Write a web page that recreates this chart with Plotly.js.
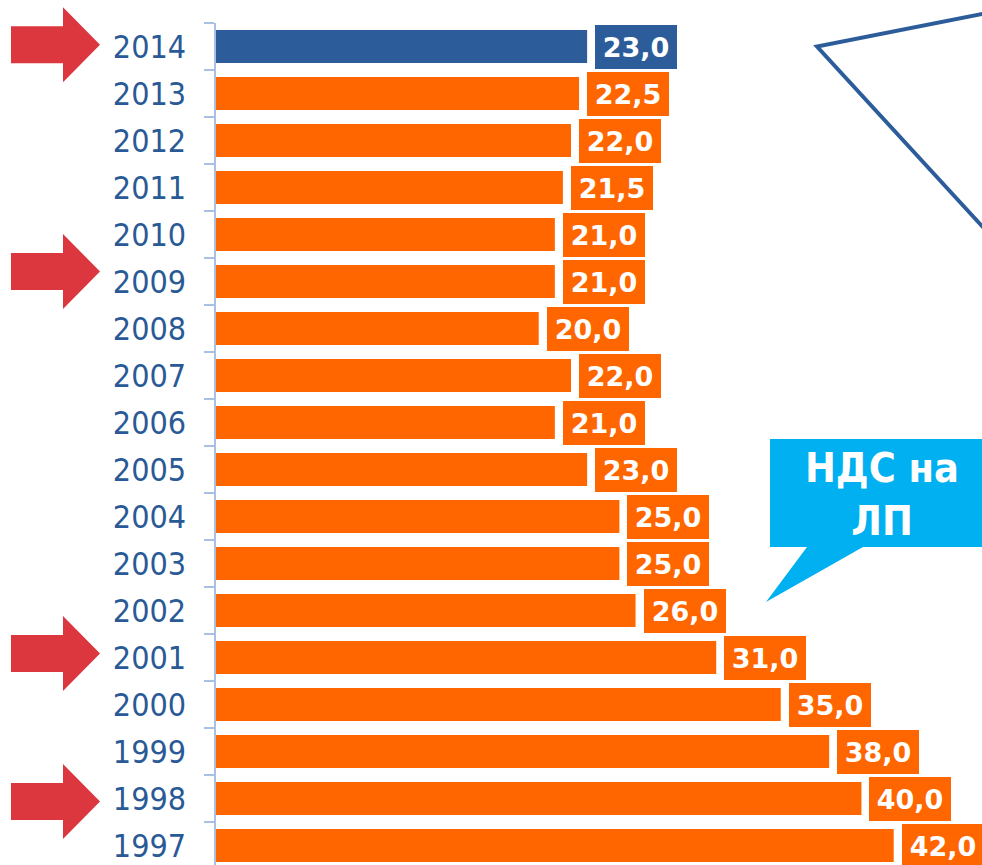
<!DOCTYPE html>
<html>
<head>
<meta charset="utf-8">
<script src="https://cdn.plot.ly/plotly-3.0.1.min.js"></script>
<style>html,body{margin:0;padding:0;background:#fff;}#chart{width:982px;height:865px;}</style>
</head>
<body>
<div id="chart"></div>
<script>
// ---- data ----
var years = ['2014','2013','2012','2011','2010','2009','2008','2007','2006','2005','2004','2003','2002','2001','2000','1999','1998','1997'];
var values = [23.0, 22.5, 22.0, 21.5, 21.0, 21.0, 20.0, 22.0, 21.0, 23.0, 25.0, 25.0, 26.0, 31.0, 35.0, 38.0, 40.0, 42.0];
var highlightYear = '2014';
var arrowYears = ['2014','2009','2001','1998'];
var arrowNudge = [-1.7, -10, -4, 3];
var calloutText = 'НДС на<br>ЛП';

// ---- style ----
var ORANGE = '#FF6600', BLUE = '#2C5D9A', RED = '#DC363F', CYAN = '#00B0F0';
var W = 982, H = 865, L = 216, R = 0, T = 23, B = 0;
var plotW = W - L - R, plotH = H - T - B;
var catPx = 47, xPerUnit = 16.136;
var nVisible = plotH / catPx;
var xMax = plotW / xPerUnit;

function pxX(x){ return (x - L) / plotW; }
function pxY(y){ return (H - B - y) / plotH; }
function catCenter(i){ return T + (i + 0.5) * catPx; }

var colors = years.map(function(y){ return y === highlightYear ? BLUE : ORANGE; });

var annotations = years.map(function(y, i){
  return {
    x: values[i], y: i, xref: 'x', yref: 'y',
    text: values[i].toFixed(1).replace('.', ','),
    showarrow: false, xanchor: 'left', yanchor: 'middle', xshift: 8,
    width: 82, height: 44, borderpad: 0, borderwidth: 0,
    bgcolor: colors[i],
    font: {family: 'DejaVu Sans, sans-serif', size: 27, color: '#ffffff', weight: 'bold'}
  };
});

annotations.push({
  xref: 'paper', yref: 'paper', x: pxX(881.5), y: pxY(494),
  xanchor: 'center', yanchor: 'middle', showarrow: false,
  text: calloutText, align: 'center',
  font: {family: 'DejaVu Sans Condensed, DejaVu Sans, sans-serif', size: 41, color: '#ffffff', weight: 'bold'}
});

function path(pts){
  return 'M' + pts.map(function(p){ return pxX(p[0]) + ',' + pxY(p[1]); }).join(' L') + ' Z';
}

var shapes = [];
arrowYears.forEach(function(y, k){
  var c = catCenter(years.indexOf(y)) + arrowNudge[k];
  shapes.push({
    type: 'path', xref: 'paper', yref: 'paper', layer: 'above',
    path: path([[11, c-18.5],[63, c-18.5],[63, c-37.5],[100, c],[63, c+37.5],[63, c+18.5],[11, c+18.5]]),
    fillcolor: RED, line: {width: 0}
  });
});
// speech bubble
shapes.push({
  type: 'path', xref: 'paper', yref: 'paper', layer: 'below',
  path: path([[770,439],[995,439],[995,547],[863,547],[766,602],[807,547],[770,547]]),
  fillcolor: CYAN, line: {width: 0}
});
// blue outline wedge
shapes.push({
  type: 'path', xref: 'paper', yref: 'paper', layer: 'above',
  path: 'M' + pxX(992) + ',' + pxY(12) + ' L' + pxX(817) + ',' + pxY(46.5) + ' L' + pxX(992) + ',' + pxY(237),
  fillcolor: 'rgba(0,0,0,0)', line: {color: BLUE, width: 4}
});

var trace = {
  type: 'bar', orientation: 'h',
  x: values, y: years,
  marker: {color: colors, line: {width: 0}},
  hoverinfo: 'none', cliponaxis: false
};

var layout = {
  width: W, height: H,
  margin: {l: L, r: R, t: T, b: B, pad: 0},
  paper_bgcolor: '#ffffff', plot_bgcolor: '#ffffff',
  showlegend: false, bargap: 0.3,
  xaxis: {range: [0, xMax], visible: false, fixedrange: true},
  yaxis: {
    type: 'category', categoryorder: 'array', categoryarray: years,
    range: [nVisible - 0.5, -0.5],
    showline: true, linecolor: '#A9BFE3', linewidth: 2.5,
    ticks: 'outside', tickson: 'boundaries', ticklen: 10, tickwidth: 2, tickcolor: '#A9BFE3',
    showgrid: false, zeroline: false, ticklabelstandoff: 21,
    tickfont: {family: 'DejaVu Sans Condensed, DejaVu Sans, sans-serif', size: 32, color: '#2A5A96'}
  },
  annotations: annotations,
  shapes: shapes
};

Plotly.newPlot('chart', [trace], layout, {displayModeBar: false, staticPlot: true});
</script>
</body>
</html>
